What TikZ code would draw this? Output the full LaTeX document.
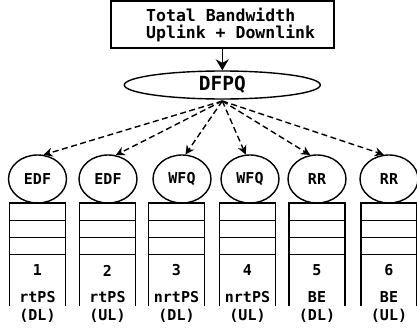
\documentclass[tikz,border=0pt]{standalone}
\usepackage{fontspec}
\setmonofont{DejaVu Sans Mono}
\usetikzlibrary{shapes.geometric,arrows.meta}
\begin{document}
\begin{tikzpicture}[x=1pt,y=-1pt,
  lw/.style={line width=1.4pt},
  topbox/.style={draw,lw,minimum width=223pt,minimum height=47pt,inner sep=0pt},
  bigell/.style={draw,lw,ellipse,minimum width=196pt,minimum height=28pt,inner sep=0pt},
  smallell/.style={draw,lw,ellipse,minimum width=58pt,minimum height=48pt,inner sep=0pt},
  lab/.style={font=\ttfamily\bfseries\fontsize{15}{17}\selectfont,inner sep=0pt},
  mainarrow/.style={lw,-{Stealth[length=11pt,width=13pt]}},
  dasharrow/.style={lw,dashed,dash pattern=on 6pt off 3.5pt,-{Stealth[length=9pt,width=9pt]}},
  queue/.style={lw}
]
\useasboundingbox (0,0) rectangle (417,329);
\node[topbox] (bw) at (222.3,24.5) {};
\node[font=\ttfamily\bfseries\fontsize{16.5}{19}\selectfont,inner sep=0pt,anchor=west] (t1) at (146,14.5) {Total Bandwidth};
\node[font=\ttfamily\bfseries\fontsize{16.5}{19}\selectfont,inner sep=0pt,anchor=west] (t2) at (146,33.5) {Uplink + Downlink};
\node[bigell] (dfpq) at (222.3,85) {};
\node[font=\ttfamily\bfseries\fontsize{19.5}{22}\selectfont,inner sep=0pt] (dl) at (222.3,85) {DFPQ};
\draw[mainarrow] (bw.south) -- (dfpq.north);
\coordinate (src) at (222.3,101);
\foreach \i/\x/\bx/\name/\num/\cls/\dir/\ang in {
  1/37.5/37.5/EDF/1/rtPS/DL/76,
  2/108/107.5/EDF/2/rtPS/UL/72,
  3/182/176.5/WFQ/3/nrtPS/DL/82,
  4/250/247.5/WFQ/4/nrtPS/UL/100,
  5/317/317/RR/5/BE/DL/106,
  6/389/389/RR/6/BE/UL/102}{
  \node[smallell] (e\i) at (\x,179) {};
  \node[lab] (n\i) at (\x,179) {\name};
  \draw[dasharrow] (src) -- (e\i.\ang);
  \draw[queue] (\bx-28,305.5) -- (\bx-28,203) -- (\bx+28,203) -- (\bx+28,305.5);
  \draw[queue] (\bx-28,220.5) -- (\bx+28,220.5);
  \draw[queue] (\bx-28,237.5) -- (\bx+28,237.5);
  \draw[queue] (\bx-28,254.5) -- (\bx+28,254.5);
  \node[lab] (q\i) at (\bx,270.5) {\num};
  \node[lab] (c\i) at (\bx,297) {\cls};
  \node[lab] (d\i) at (\bx,315.5) {(\dir)};
}
\end{tikzpicture}
\end{document}
